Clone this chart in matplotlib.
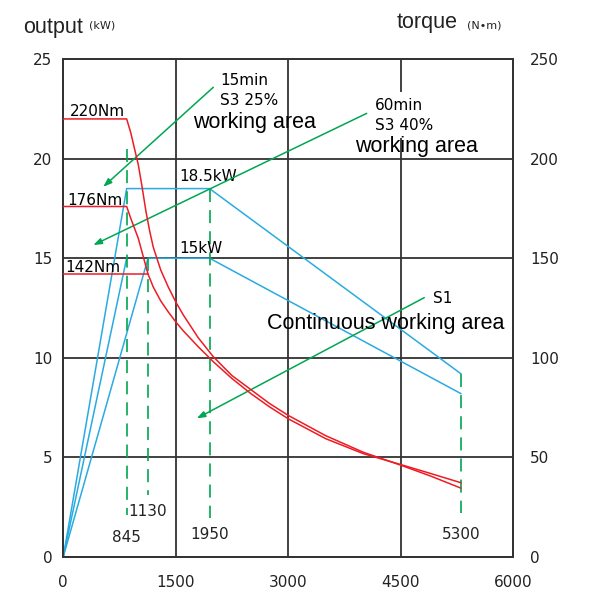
import matplotlib
matplotlib.use('Agg')
import matplotlib.pyplot as plt

# speed axis (rpm) and power (kW) / torque (N·m) curves
x_ticks = [0, 1500, 3000, 4500, 6000]
kw_ticks = [0, 5, 10, 15, 20, 25]
nm_ticks = [0, 50, 100, 150, 200, 250]

# power envelopes (kW)
p_hi_rpm = [0, 845, 1950, 5300]
p_hi_kw = [0, 18.5, 18.5, 9.2]
p_lo_rpm = [0, 1130, 1950, 5300]
p_lo_kw = [0, 15, 15, 8.2]
p_mid_rpm = [0, 845]
p_mid_kw = [0, 15]

# torque curves (N·m)
t_220_rpm = [0, 845, 900, 950, 1000, 1050, 1100, 1150, 1200, 1300, 1400, 1500,
             1600, 1800, 2000, 2250, 2500, 2750, 3000, 3500, 4000, 4500, 4900, 5300]
t_220_nm = [220, 220, 213, 205, 197, 186, 174, 164, 155.5, 144, 135.5, 128,
            121.5, 110, 100.5, 91, 84, 77, 71, 60.8, 52.5, 46, 40.5, 34.5]
t_176_rpm = [0, 845, 900, 950, 1000, 1065, 1130, 1200, 1300, 1400, 1500, 1600,
             1800, 2000, 2250, 2500, 2750, 3000, 3500, 4000, 4500, 4900, 5300]
t_176_nm = [176, 176, 170, 165, 160, 151, 142, 135.5, 128.5, 123, 118, 113.5,
            105.5, 98, 89.5, 82, 75.3, 69.3, 59.3, 51.8, 46.3, 41.8, 37.2]
t_142_rpm = [0, 1130]
t_142_nm = [142, 142]

# speed markers: rpm, top and bottom of the dashed line (kW)
mark_rpm = [845, 1130, 1950, 5300]
mark_top = [20.5, 15, 18.5, 9.2]
mark_bot = [2.1, 3.1, 1.95, 2.2]
mark_lbl_y = [0.75, 2.05, 0.89, 0.89]

RED = '#ed1c24'
BLUE = '#29abe2'
GREEN = '#00a651'
DARK = '#333333'
NUM_FONT = 'DejaVu Sans'
TXT_FONT = 'Liberation Sans'

plt.rcParams['lines.scale_dashes'] = False

fig = plt.figure(figsize=(6.01, 5.90), dpi=100)
ax = fig.add_axes([0.1053, 0.0564, 0.7488, 0.8432])
ax2 = ax.twinx()

ax.set_xlim(0, 6000)
ax.set_ylim(0, 25)
ax2.set_ylim(0, 250)
ax.set_xticks(x_ticks)
ax.set_yticks(kw_ticks)
ax2.set_yticks(nm_ticks)
ax.set_xticklabels([str(v) for v in x_ticks], fontfamily=NUM_FONT, fontsize=11)
ax.set_yticklabels([str(v) for v in kw_ticks], fontfamily=NUM_FONT, fontsize=11)
ax2.set_yticklabels([str(v) for v in nm_ticks], fontfamily=NUM_FONT, fontsize=11)
ax.tick_params(axis='x', length=0, pad=13, colors='#222222')
ax.tick_params(axis='y', length=0, pad=8, colors='#222222')
ax2.tick_params(axis='y', length=0, pad=12, colors='#222222')

ax.grid(True, color=DARK, linewidth=1.3)
ax.set_axisbelow(True)
for a in (ax, ax2):
    for s in a.spines.values():
        s.set_color(DARK)
        s.set_linewidth(1.3)

# power lines
for r, p in [(p_hi_rpm, p_hi_kw), (p_lo_rpm, p_lo_kw), (p_mid_rpm, p_mid_kw)]:
    ax.plot(r, p, color=BLUE, linewidth=1.1, zorder=3)

# dashed speed markers
for r, t, b in zip(mark_rpm, mark_top, mark_bot):
    ax.plot([r, r], [t, b], color=GREEN, linewidth=1.2,
            linestyle=(0, (9.4, 5.8)), zorder=3)
for r, y in zip(mark_rpm, mark_lbl_y):
    ax.text(r, y, str(r), ha='center', va='baseline',
            fontfamily=NUM_FONT, fontsize=11, color='#222222')

# torque lines
for r, t in [(t_220_rpm, t_220_nm), (t_176_rpm, t_176_nm), (t_142_rpm, t_142_nm)]:
    ax2.plot(r, t, color=RED, linewidth=1.1, zorder=3, solid_joinstyle='round')

ax2.text(89, 221.5, '220Nm', ha='left', va='baseline', fontfamily=NUM_FONT, fontsize=11)
ax2.text(53, 177, '176Nm', ha='left', va='baseline', fontfamily=NUM_FONT, fontsize=11)
ax2.text(23, 143, '142Nm', ha='left', va='baseline', fontfamily=NUM_FONT, fontsize=11)
ax.text(1543, 18.9, '18.5kW', ha='left', va='baseline', fontfamily=NUM_FONT, fontsize=11)
ax.text(1543, 15.25, '15kW', ha='left', va='baseline', fontfamily=NUM_FONT, fontsize=11)

# working-area callouts
arrow = dict(arrowstyle='-|>,head_length=0.5,head_width=0.18', color=GREEN,
             linewidth=1.1, shrinkA=0, shrinkB=0)
ax.annotate('', xy=(533, 18.59), xytext=(2000, 23.59), arrowprops=arrow, zorder=4)
ax.annotate('', xy=(400, 15.66), xytext=(4045, 22.28), arrowprops=arrow, zorder=4)
ax.annotate('', xy=(1779, 6.95), xytext=(4813, 13.02), arrowprops=arrow, zorder=4)

box = dict(boxstyle='square,pad=0.35', facecolor='white', edgecolor='none')
ax.text(2090, 22.70, '15min\nS3 25%', ha='left', va='baseline', linespacing=1.45,
        fontfamily=NUM_FONT, fontsize=11, bbox=box, zorder=5)
ax.text(1733, 21.53, 'working area', ha='left', va='baseline',
        fontfamily=TXT_FONT, fontsize=15.5, zorder=6)
ax.text(4156, 21.44, '60min\nS3 40%', ha='left', va='baseline', linespacing=1.45,
        fontfamily=NUM_FONT, fontsize=11, bbox=box, zorder=5)
ax.text(3889, 20.35, 'working area', ha='left', va='baseline',
        fontfamily=TXT_FONT, fontsize=15.5, zorder=6)
ax.text(4933, 12.76, 'S1', ha='left', va='baseline',
        fontfamily=NUM_FONT, fontsize=11, zorder=6)
ax.text(2720, 11.43, 'Continuous working area', ha='left', va='baseline',
        fontfamily=TXT_FONT, fontsize=15.5, zorder=6)

# axis titles
W, H = 601, 590
fig.text(23 / W, 1 - 33.3 / H, 'output', fontfamily=TXT_FONT, fontsize=15.5,
         va='baseline', color='#222222')
fig.text(89 / W, 1 - 28 / H, '(kW)', fontfamily=NUM_FONT, fontsize=8,
         va='baseline', color='#222222')
fig.text(396.7 / W, 1 - 28.3 / H, 'torque', fontfamily=TXT_FONT, fontsize=15.5,
         va='baseline', color='#222222')
fig.text(466.7 / W, 1 - 28 / H, '(N\u2022m)', fontfamily=NUM_FONT, fontsize=8,
         va='baseline', color='#222222')

fig.savefig('out.png', dpi=100, facecolor='white')
